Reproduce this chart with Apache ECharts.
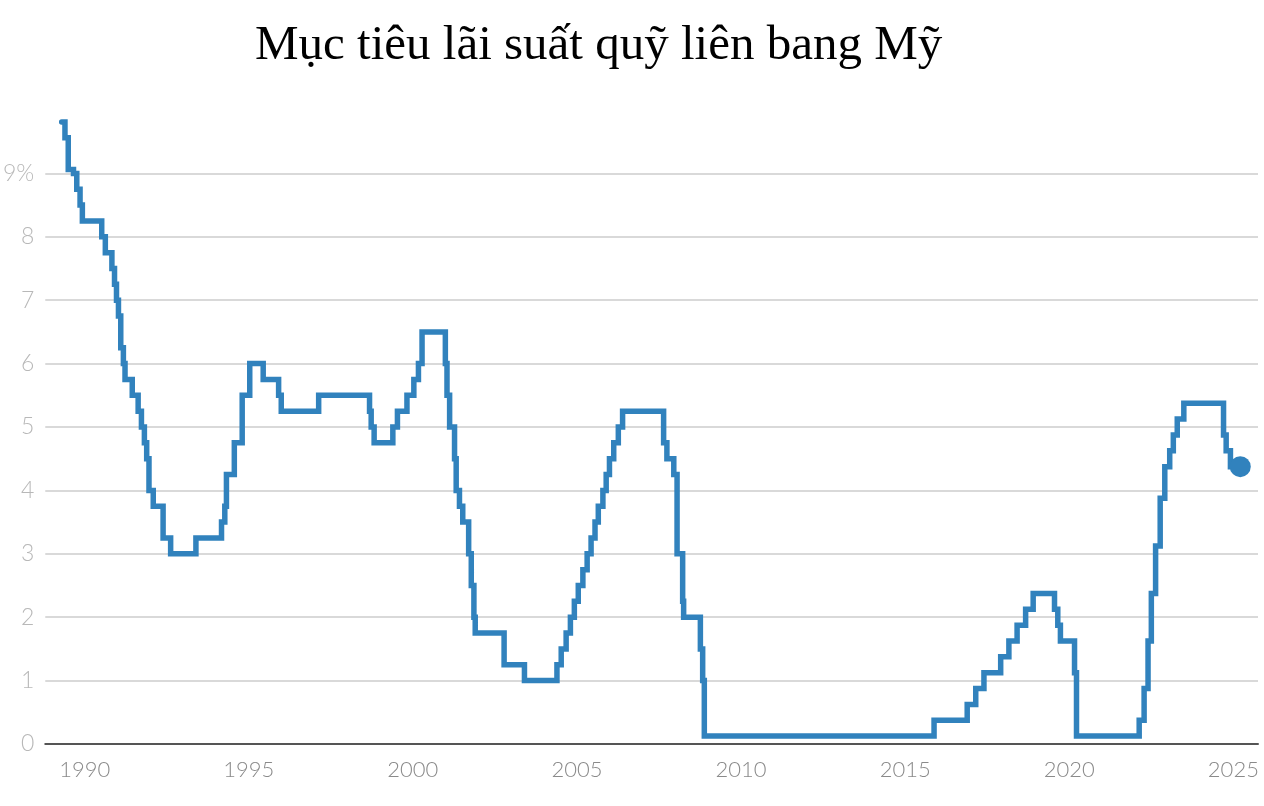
<!DOCTYPE html>
<html>
<head>
<meta charset="utf-8">
<title>Mục tiêu lãi suất quỹ liên bang Mỹ</title>
<script src="https://cdn.jsdelivr.net/npm/echarts@6/dist/echarts.min.js"></script>
<style>
  html, body { margin: 0; padding: 0; background: #fff; }
  #chart { width: 1264px; height: 806px; }
</style>
</head>
<body>
<div id="chart"></div>
<script>
// fed funds target: year (decimal) of each change, new rate
const changeYears = [
  1989.30, 1989.40, 1989.50, 1989.66, 1989.76, 1989.86, 1989.93,
  1990.52, 1990.63, 1990.83, 1990.91, 1990.97,
  1991.03, 1991.10, 1991.18, 1991.23, 1991.45, 1991.63, 1991.73, 1991.82, 1991.89, 1991.96,
  1992.09, 1992.39, 1992.62, 1993.39,
  1994.17, 1994.27, 1994.32, 1994.56, 1994.80,
  1995.03, 1995.44, 1995.91, 1995.99,
  1997.13, 1998.68, 1998.73, 1998.82,
  1999.39, 1999.53, 1999.82, 2000.03, 2000.17, 2000.28,
  2000.99, 2001.04, 2001.12, 2001.27, 2001.32, 2001.42, 2001.52, 2001.70, 2001.78, 2001.86, 2001.90,
  2002.78, 2003.40,
  2004.39, 2004.52, 2004.67, 2004.80, 2004.92,
  2005.04, 2005.18, 2005.31, 2005.43, 2005.55, 2005.65, 2005.79, 2005.89, 2005.99,
  2006.12, 2006.26, 2006.39,
  2007.64, 2007.74, 2007.95,
  2008.05, 2008.22, 2008.25, 2008.76, 2008.83, 2008.88,
  2015.88, 2016.89, 2017.15, 2017.40, 2017.91,
  2018.16, 2018.41, 2018.67, 2018.90,
  2019.55, 2019.65, 2019.73,
  2020.16, 2020.22,
  2022.13, 2022.28, 2022.40, 2022.50, 2022.63, 2022.77, 2022.91,
  2023.06, 2023.17, 2023.29, 2023.49,
  2024.70, 2024.78, 2024.91,
  2025.21
];
const targetRates = [
  9.8125, 9.5625, 9.0625, 9.0, 8.75, 8.5, 8.25,
  8.0, 7.75, 7.5, 7.25, 7.0,
  6.75, 6.25, 6.0, 5.75, 5.5, 5.25, 5.0, 4.75, 4.5, 4.0,
  3.75, 3.25, 3.0, 3.25,
  3.5, 3.75, 4.25, 4.75, 5.5,
  6.0, 5.75, 5.5, 5.25,
  5.5, 5.25, 5.0, 4.75,
  5.0, 5.25, 5.5, 5.75, 6.0, 6.5,
  6.0, 5.5, 5.0, 4.5, 4.0, 3.75, 3.5, 3.0, 2.5, 2.0, 1.75,
  1.25, 1.0,
  1.25, 1.5, 1.75, 2.0, 2.25,
  2.5, 2.75, 3.0, 3.25, 3.5, 3.75, 4.0, 4.25, 4.5,
  4.75, 5.0, 5.25,
  4.75, 4.5, 4.25,
  3.0, 2.25, 2.0, 1.5, 1.0, 0.125,
  0.375, 0.625, 0.875, 1.125, 1.375,
  1.625, 1.875, 2.125, 2.375,
  2.125, 1.875, 1.625,
  1.125, 0.125,
  0.375, 0.875, 1.625, 2.375, 3.125, 3.875, 4.375,
  4.625, 4.875, 5.125, 5.375,
  4.875, 4.625, 4.375,
  4.375
];
const yearLabels = [1990, 1995, 2000, 2005, 2010, 2015, 2020, 2025];

const lineColor = '#3182bd';
const axisFont = 'Lato, "Open Sans", sans-serif';

const chart = echarts.init(document.getElementById('chart'), null, { renderer: 'canvas' });

// step path from the change list: old level up to the change date, then the new level.
// drawn as a 'lines' polyline so the very short steps are not dropped
let stepCoords = [[changeYears[0], targetRates[0]]];
for (let i = 1; i < changeYears.length; i++) {
  stepCoords.push([changeYears[i], targetRates[i - 1]]);
  stepCoords.push([changeYears[i], targetRates[i]]);
}
const lastPoint = [changeYears[changeYears.length - 1], targetRates[targetRates.length - 1]];

const option = {
  animation: false,
  title: {
    text: 'Mục tiêu lãi suất quỹ liên bang Mỹ',
    left: 250,
    top: 17,
    textStyle: {
      fontFamily: '"Liberation Serif", "DejaVu Serif", serif',
      fontSize: 49,
      fontWeight: 'normal',
      color: '#000'
    }
  },
  grid: {
    left: 44,
    right: 6,
    top: 110,
    bottom: 62
  },
  xAxis: {
    type: 'value',
    min: 1988.8,
    max: 2025.75,
    axisLine: { show: true, onZero: true, lineStyle: { color: '#555', width: 2 } },
    axisTick: { show: false, customValues: yearLabels },
    splitLine: { show: false },
    axisLabel: {
      customValues: yearLabels,
      color: '#8a8a8a',
      fontFamily: axisFont,
      fontWeight: 300,
      fontSize: 22,
      margin: 15,
      formatter: v => String(Math.round(v))
    }
  },
  yAxis: {
    type: 'value',
    min: 0,
    max: 10,
    interval: 1,
    axisLine: { show: false },
    axisTick: { show: false },
    splitLine: {
      show: true,
      showMaxLine: false,
      lineStyle: { color: '#cccccc', width: 1.5 }
    },
    axisLabel: {
      showMaxLabel: false,
      color: '#b8b8b8',
      fontFamily: axisFont,
      fontWeight: 300,
      fontSize: 23,
      margin: 11,
      formatter: v => (v === 9 ? '9%' : String(v))
    }
  },
  series: [
    {
      name: 'rate',
      type: 'lines',
      coordinateSystem: 'cartesian2d',
      polyline: true,
      data: [{ coords: stepCoords }],
      lineStyle: { color: lineColor, width: 5.5, opacity: 1, join: 'miter', cap: 'round' },
      z: 3
    },
    {
      name: 'latest',
      type: 'scatter',
      data: [lastPoint],
      symbol: 'circle',
      symbolSize: 21,
      itemStyle: { color: lineColor, opacity: 1 },
      z: 4
    }
  ]
};

chart.setOption(option);
</script>
</body>
</html>
